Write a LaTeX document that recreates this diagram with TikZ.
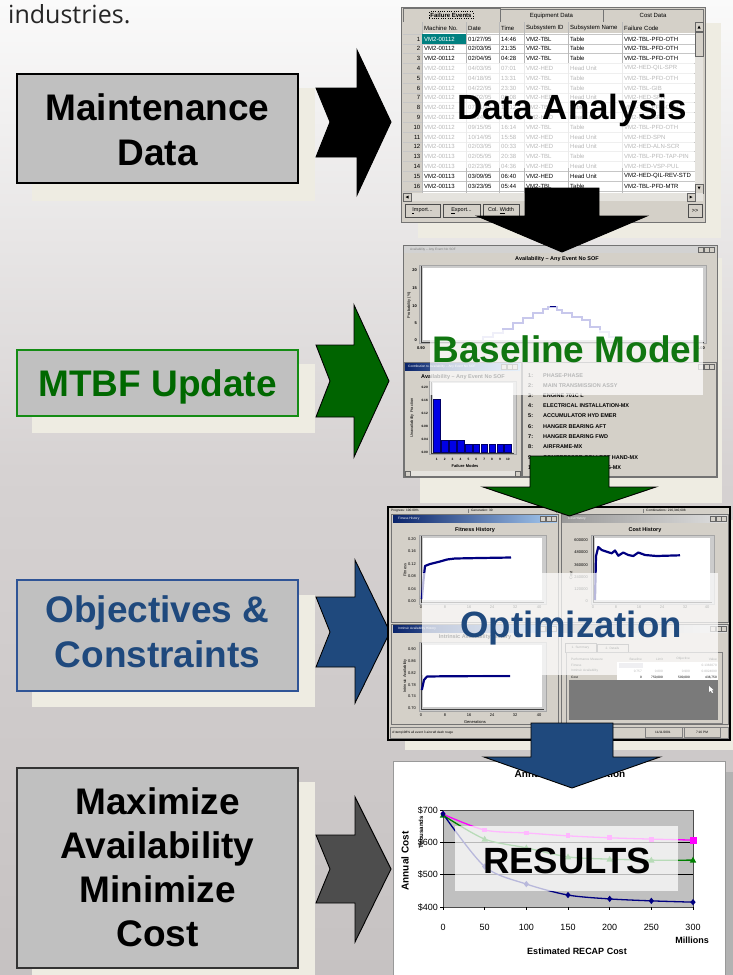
\documentclass[tikz,border=0pt]{standalone}
\usepackage{fontspec}
\setmainfont{Liberation Sans}
\newfontfamily\indfont{Open Sans}
\definecolor{beige}{RGB}{238,236,226}
\definecolor{boxgray}{RGB}{192,192,192}
\definecolor{wingray}{RGB}{212,208,200}
\definecolor{chgreen}{RGB}{0,100,0}
\definecolor{bdgreen}{RGB}{20,140,20}
\definecolor{txgreen}{RGB}{0,104,0}
\definecolor{bmgreen}{RGB}{16,118,16}
\definecolor{dblue}{RGB}{31,73,125}
\definecolor{bdblue}{RGB}{47,84,150}
\definecolor{chgray}{RGB}{77,77,77}
\definecolor{navyc}{RGB}{0,0,128}
\definecolor{magc}{RGB}{255,0,255}
\definecolor{grnc}{RGB}{0,128,0}
\definecolor{bgtop}{RGB}{250,250,250}
\definecolor{bgmid}{RGB}{214,210,210}
\definecolor{bgbot}{RGB}{198,194,194}
\definecolor{lav}{RGB}{200,200,236}
\definecolor{barblue}{RGB}{0,0,230}
\definecolor{titblue}{RGB}{10,36,106}
\definecolor{titlight}{RGB}{166,202,240}
\definecolor{tealc}{RGB}{0,128,128}
\definecolor{darkarea}{RGB}{122,122,122}
\tikzset{
  ftA/.style={font=\fontsize{3.2}{3.8}\selectfont, inner sep=0pt},
  ftB/.style={font=\fontsize{4}{4.8}\selectfont, inner sep=0pt},
  ftBb/.style={font=\bfseries\fontsize{4}{4.8}\selectfont, inner sep=0pt},
  ftC/.style={font=\fontsize{5.5}{6.6}\selectfont, inner sep=0pt},
  ftCb/.style={font=\bfseries\fontsize{5.5}{6.6}\selectfont, inner sep=0pt},
  ftD/.style={font=\fontsize{6}{7.2}\selectfont, inner sep=0pt},
  ftE/.style={font=\fontsize{9}{10.8}\selectfont, inner sep=0pt},
  ftEb/.style={font=\bfseries\fontsize{9}{10.8}\selectfont, inner sep=0pt},
  bigtxt/.style={font=\bfseries\fontsize{37}{45}\selectfont, align=center, inner sep=0pt},
  lbox/.style={draw, line width=1.3pt, fill=boxgray, inner sep=0pt},
  chev/.style={draw=black, line width=0.9pt, line join=miter},
  win/.style={fill=wingray, draw=black!55, line width=0.5pt},
  band/.style={fill=white, opacity=0.72},
  wbtn/.style={fill=wingray, draw=black!60, line width=0.3pt},
  btn/.style={draw=black!70, fill=wingray, line width=0.5pt, minimum height=13pt, inner sep=0pt, font=\fontsize{5.5}{6.6}\selectfont},
  pframe/.style={fill=gray!40, draw=gray!70, line width=0.4pt},
}
\begin{document}
\begin{tikzpicture}[x=1pt,y=-1pt]
\useasboundingbox (0,0) rectangle (733,975);
% background
\shade[top color=bgtop, bottom color=bgmid] (0,0) rectangle (733,470);
\shade[top color=bgmid, bottom color=bgbot] (0,469.5) rectangle (733,975);
\node[anchor=base west, inner sep=0pt, font=\indfont\fontsize{25}{30}\selectfont, text=black!85] (ind) at (8,23) {industries.};

% ---------------- left boxes ----------------
\fill[beige] (32,88) rectangle (315,201);
\node[lbox, draw=black, minimum width=281pt, minimum height=109pt] (box1) at (157.5,128.5) {};
\node[bigtxt] (txt1) at (157.5,129.3) {Maintenance\\Data};

\fill[beige] (32,364) rectangle (315,433);
\node[lbox, draw=bdgreen, minimum width=281pt, minimum height=66pt] (box2) at (157.5,383) {};
\node[bigtxt, anchor=base, text=txgreen] (txt2) at (157.5,396) {MTBF Update};

\fill[beige] (32,595) rectangle (315,707);
\node[lbox, draw=bdblue, minimum width=281pt, minimum height=111pt] (box3) at (157.5,635.5) {};
\node[bigtxt, text=dblue] (txt3) at (157.5,632) {Objectives \&\\Constraints};

\fill[beige] (32,782) rectangle (315,975);
\node[lbox, draw=black!80, minimum width=281pt, minimum height=200pt] (box4) at (157.5,868) {};
\node[bigtxt, font=\bfseries\fontsize{37}{44.3}\selectfont] (txt4) at (157.5,867.3) {Maximize\\Availability\\Minimize\\Cost};

% ---------------- chevrons ----------------
\filldraw[chev, fill=black] (316,88) -- (357,88) -- (357,50) -- (391,122) -- (357,195) -- (357,157) -- (316,157) -- (330,122) -- cycle;
\filldraw[chev, fill=chgreen] (316,345) -- (354,345) -- (354,305) -- (389,381) -- (354,457) -- (354,417) -- (316,417) -- (330,381) -- cycle;
\filldraw[chev, fill=dblue] (316,597) -- (355,597) -- (355,560) -- (390,632) -- (355,703) -- (355,667) -- (316,667) -- (330,632) -- cycle;
\filldraw[chev, fill=chgray] (316,835) -- (355,835) -- (355,797) -- (391,869) -- (355,942) -- (355,903) -- (316,903) -- (330,869) -- cycle;

% ================= screenshot 1 : data table =================
\fill[beige] (418,23) rectangle (721,238);
\draw[win] (401,7) rectangle (705,222);
\draw[win] (500,9.5) rectangle (603,22);
\draw[win] (603,9.5) rectangle (703,22);
\draw[win] (403,8) rectangle (500,22);
\node[ftD, font=\bfseries\fontsize{6}{7.2}\selectfont, draw=black, line width=0.3pt, dotted, inner sep=1.2pt] (tab1) at (451,15) {Failure Events};
\node[ftD] (tab2) at (551.5,15.5) {Equipment Data};
\node[ftD] (tab3) at (653,15.5) {Cost Data};
\fill[white] (403,22) rectangle (703,197);
\fill[wingray] (403,22) rectangle (695,33);
\fill[wingray] (403,33) rectangle (422,193);
\foreach \k in {0,...,16} \draw[gray!45, line width=0.4pt] (403,{34+\k*9.8}) -- (695,{34+\k*9.8});
\foreach \x in {422,466,499,524,568,622,695} \draw[gray!55, line width=0.4pt] (\x,22) -- (\x,193);
\fill[tealc] (422.4,34.4) rectangle (465.6,43.6);
\node[ftD, anchor=west] (h1) at (424,28) {Machine No.};
\node[ftD, anchor=west] (h2) at (468,28) {Date};
\node[ftD, anchor=west] (h3) at (501,28) {Time};
\node[ftD, anchor=west] (h4) at (526,28) {Subsystem ID};
\node[ftD, anchor=west] (h5) at (570,28) {Subsystem Name};
\node[ftD, anchor=west] (h6) at (624,28) {Failure Code};
\foreach \i/\a/\b/\c/\d/\e/\f in {
 1/VM2-00112/{01/27/95}/14:46/VM2-TBL/Table/VM2-TBL-PFD-OTH,
 2/VM2-00112/{02/03/95}/21:35/VM2-TBL/Table/VM2-TBL-PFD-OTH,
 3/VM2-00112/{02/04/95}/04:28/VM2-TBL/Table/VM2-TBL-PFD-OTH,
 4/VM2-00112/{04/03/95}/07:01/VM2-HED/Head Unit/VM2-HED-QIL-SPR,
 5/VM2-00112/{04/18/95}/13:31/VM2-TBL/Table/VM2-TBL-PFD-OTH,
 6/VM2-00112/{04/22/95}/23:30/VM2-TBL/Table/VM2-TBL-GIB,
 7/VM2-00112/{06/02/95}/00:08/VM2-HED/Head Unit/VM2-HED-SPN,
 8/VM2-00112/{07/11/95}/10:12/VM2-TBL/Table/VM2-TBL-PFD-OTH,
 9/VM2-00112/{08/24/95}/09:47/VM2-HED/Head Unit/VM2-HED-SPN,
 10/VM2-00112/{09/15/95}/16:14/VM2-TBL/Table/VM2-TBL-PFD-OTH,
 11/VM2-00112/{10/14/95}/15:58/VM2-HED/Head Unit/VM2-HED-SPN,
 12/VM2-00113/{02/03/95}/00:33/VM2-HED/Head Unit/VM2-HED-ALN-SCR,
 13/VM2-00113/{02/05/95}/20:38/VM2-TBL/Table/VM2-TBL-PFD-TAP-PIN,
 14/VM2-00113/{02/23/95}/04:36/VM2-HED/Head Unit/VM2-HED-VSP-PUL,
 15/VM2-00113/{03/09/95}/06:40/VM2-HED/Head Unit/VM2-HED-QIL-REV-STD,
 16/VM2-00113/{03/23/95}/05:44/VM2-TBL/Table/VM2-TBL-PFD-MTR}{
  \pgfmathsetmacro\yy{39+(\i-1)*9.8}
  \ifnum\i=1 \def\mcol{white}\else\def\mcol{black}\fi
  \node[ftD, anchor=east] (no\i) at (420.5,\yy) {\i};
  \node[ftD, anchor=west, text=\mcol] (ma\i) at (424,\yy) {\a};
  \node[ftD, anchor=west] (da\i) at (468,\yy) {\b};
  \node[ftD, anchor=west] (ti\i) at (501,\yy) {\c};
  \node[ftD, anchor=west] (si\i) at (526,\yy) {\d};
  \node[ftD, anchor=west] (sn\i) at (570,\yy) {\e};
  \node[ftD, anchor=west] (fc\i) at (624,\yy) {\f};
}
% scrollbars
\fill[wingray!60] (695,22) rectangle (703,193);
\draw[wbtn] (695,22) rectangle (703,31);
\draw[wbtn] (695,32) rectangle (703,56);
\draw[wbtn] (695,184) rectangle (703,193);
\fill[wingray!60] (403,193) rectangle (703,201);
\draw[wbtn] (403,193) rectangle (411,201);
\draw[wbtn] (687,193) rectangle (695,201);
\fill[black] (697.5,28.5) -- (700.5,28.5) -- (699,25.5) -- cycle;
\fill[black] (697.5,186.5) -- (700.5,186.5) -- (699,189.5) -- cycle;
\fill[black] (408.5,195.5) -- (408.5,198.5) -- (405.5,197) -- cycle;
\fill[black] (689.5,195.5) -- (689.5,198.5) -- (692.5,197) -- cycle;
% buttons
\node[btn, minimum width=35pt] (bimp) at (422.5,211) {\underline{I}mport...};
\node[btn, minimum width=37pt] (bexp) at (461.5,211) {\underline{E}xport...};
\node[btn, minimum width=36pt] (bcol) at (501,211) {Col. \underline{W}idth};
\node[btn, minimum width=14pt] (bmore) at (695,211) {{>}{>}};
% overlay and title
\fill[band] (423,63) rectangle (694,168);
\node[bigtxt, font=\bfseries\fontsize{35}{42}\selectfont, anchor=base] (lab1) at (572,119) {Data Analysis};

% ================= screenshot 2 : baseline model =================
\fill[beige] (420,258) rectangle (722,503);
\draw[win] (403,245) rectangle (717,477);
\fill[gray!35] (404,246) rectangle (716,253);
\node[ftA, anchor=west, text=gray] (w2t) at (410,249.5) {Availability -- Any Event No SOF};
\foreach \bx in {701,706.5,712} \draw[wbtn] (\bx-2.5,247) rectangle (\bx+2.5,252);
\node[ftCb] (ct2) at (557,259.5) {Availability -- Any Event No SOF};
\draw[pframe] (419,265) rectangle (706,343);
\fill[white] (423,268) rectangle (703,340);
\draw[black!75, line width=0.6pt] (421,266) -- (421,342) -- (704,342);
\foreach \v/\yy in {20/270,15/288,10/306,5/323,0/340} \node[ftBb, anchor=east] (py\v) at (417,\yy) {\v};
\node[ftB, rotate=90] (pyl) at (409,305) {Probability (\%)};
\node[ftBb] (pxa) at (421,348) {0.90};
\node[ftBb] (pxb) at (701,348) {1.00};
\draw[lav, line width=1.8pt] (483,340) -- (483,337) -- (493,337) -- (493,333) -- (503,333) -- (503,329) -- (513,329) -- (513,323) -- (523,323) -- (523,318) -- (533,318) -- (533,313) -- (543,313) -- (543,309) -- (548,309) -- (548,307) -- (557,307) -- (557,310) -- (562,310) -- (562,313) -- (572,313) -- (572,317) -- (582,317) -- (582,320) -- (590,320) -- (590,327) -- (600,327) -- (600,332) -- (609,332) -- (609,337) -- (620,337) -- (620,340);
\draw[navyc, line width=1pt] (550,306) -- (556,306);
% bottom-left panel
\draw[win] (404,362) rectangle (521,476);
\shade[left color=titblue, right color=titlight] (405,363) rectangle (520,370);
\node[ftA, anchor=west, text=white] (w3t) at (408,366.5) {Contribution to Availability -- Any Event No SOF};
\foreach \bx in {504,509.5,515} \draw[wbtn] (\bx-2.5,364) rectangle (\bx+2.5,369);
\node[ftCb] (ct3) at (463,377) {Availability -- Any Event No SOF};
\draw[pframe] (429,381) rectangle (516,454);
\fill[white] (433,383) rectangle (513,452);
\draw[black!75, line width=0.6pt] (431,382) -- (431,453) -- (514,453);
\foreach \k/\tp in {1/399,2/440,3/440,4/440,5/444,6/444,7/444,8/444,9/444,10/444}
  \filldraw[fill=barblue, draw=blue!40!black, line width=0.3pt] ({433.5+(\k-1)*7.9},\tp) rectangle ({433.5+(\k-1)*7.9+6.6},452);
\foreach \v/\yy in {0.20/387,0.16/400,0.12/413,0.08/426,0.04/439,0.00/452} \node[ftA, font=\bfseries\fontsize{3.2}{3.8}\selectfont, anchor=east] (uy\v) at (428,\yy) {\v};
\foreach \k in {1,...,10} \node[ftA, font=\bfseries\fontsize{3.2}{3.8}\selectfont] (ux\k) at ({436.8+(\k-1)*7.9},459) {\k};
\node[ftBb] (uxl) at (465,466) {Failure Modes};
\node[ftB, rotate=90] (uyl) at (412,418) {Unavailability Fraction};
\fill[wingray!60] (405,471) rectangle (520,476);
\draw[wbtn] (405,471) rectangle (410,476);
\draw[wbtn] (515,471) rectangle (520,476);
% bottom-right panel
\draw[win] (522,362) rectangle (716,476);
\foreach \bx in {701,706.5,712} \draw[wbtn] (\bx-2.5,364) rectangle (\bx+2.5,369);
\foreach \k/\yy/\txt in {1/376/PHASE-PHASE, 2/386/MAIN TRANSMISSION ASSY, 3/396/ENGINE 701C L/H-MX, 4/406/ELECTRICAL INSTALLATION-MX, 5/416/ACCUMULATOR HYD EMER/AP, 6/426.5/HANGER BEARING AFT, 7/437/HANGER BEARING FWD, 8/447/AIRFRAME-MX, 9/457.5/COMPRESSOR COLLECT HAND-MX, 10/468/LANDING GEAR RIGGING-MX}{
  \node[ftCb, anchor=west] (ln\k) at (528,\yy) {\k:};
  \node[ftCb, anchor=west] (lt\k) at (543,\yy) {\txt};
}
\fill[band] (430,330) rectangle (703,395);
\node[bigtxt, anchor=base, text=bmgreen] (lab2) at (567,362) {Baseline Model};

% ================= screenshot 3 : optimization =================
\fill[beige] (405,520) rectangle (735,750);
\draw[fill=wingray, draw=black, line width=2pt] (388,507) rectangle (730,740);
\node[ftA, anchor=west] (st1) at (391,510.5) {Progress: 100.00\%};
\node[ftA, anchor=west] (st2) at (471,510.5) {Generation: 30};
\node[ftA, anchor=west] (st3) at (646,510.5) {Combinations: 216,340,608};
\foreach \x in {468,556,643} \draw[gray, line width=0.3pt] (\x,508.5) -- (\x,512.5);
\draw[win] (391,514) rectangle (558,622);
\draw[win] (561,514) rectangle (728,622);
\draw[win] (391,624) rectangle (558,724);
\draw[win] (561,624) rectangle (728,724);
\shade[left color=titblue, right color=titlight] (393,515) rectangle (557,522);
\shade[left color=gray!80, right color=gray!25] (562,515) rectangle (727,522);
\shade[left color=titblue, right color=titlight] (393,625) rectangle (557,632);
\shade[left color=gray!80, right color=gray!25] (562,625) rectangle (727,632);
\node[ftA, anchor=west, text=white] (tb1) at (398,518.5) {Fitness History};
\node[ftA, anchor=west, text=white] (tb2) at (568,518.5) {Cost History};
\node[ftA, anchor=west, text=white] (tb3) at (398,628.5) {Intrinsic Availability History};
\foreach \bx/\by in {543/518.5,548.5/518.5,554/518.5,713/518.5,718.5/518.5,724/518.5,543/628.5,548.5/628.5,554/628.5,713/628.5,718.5/628.5,724/628.5}
  \draw[wbtn] (\bx-2.5,\by-2.5) rectangle (\bx+2.5,\by+2.5);
% fitness history
\node[ftCb] (ft1) at (475,530) {Fitness History};
\draw[pframe] (419,535) rectangle (546,604);
\fill[white] (423,538) rectangle (542,600);
\draw[black!75, line width=0.6pt] (421,536) -- (421,602) -- (544,602);
\foreach \v/\yy in {0.20/539,0.16/551.5,0.12/564,0.08/576.5,0.04/589,0.00/601.5} \node[ftB, anchor=east] (fy\v) at (416,\yy) {\v};
\foreach \g/\xx in {0/421,8/445,16/469,24/492,32/515,40/539} \node[ftB] (fx\g) at (\xx,607.5) {\g};
\node[ftB, rotate=90] (fyl) at (405,570) {Fitness};
\draw[navyc, line width=2.2pt, line join=round] (421.8,599) -- (423.5,580) -- (425,566) -- (430,564) -- (440,561.5) -- (447,559.5) -- (455,558.5) -- (480,558) -- (511,557.5);
% cost history
\node[ftCb] (ft2) at (645,530) {Cost History};
\draw[pframe] (591,535) rectangle (714,604);
\fill[white] (595,538) rectangle (710,600);
\draw[black!75, line width=0.6pt] (593,536) -- (593,602) -- (712,602);
\foreach \v/\yy in {600000/540,480000/552.5,360000/565,240000/577,120000/589,0/601} \node[ftB, anchor=east] (cy\v) at (588,\yy) {\v};
\foreach \g/\xx in {0/593,8/616,16/639,24/662,32/685,40/707} \node[ftB] (cx\g) at (\xx,607.5) {\g};
\node[ftB, rotate=90] (cyl) at (571,575) {Cost};
\draw[navyc, line width=2.2pt, line join=round] (595,600) -- (596,556) -- (598.3,547) -- (601.7,550) -- (606.7,551.7) -- (611.7,553.3) -- (615,550.5) -- (618.3,555.7) -- (623.3,552.5) -- (628.3,555) -- (633.3,556) -- (638.3,552.5) -- (645,555) -- (656.7,556) -- (680,555.3);
% intrinsic availability history
\node[ftCb] (ft3) at (475,637) {Intrinsic Availability History};
\draw[pframe] (419,642) rectangle (546,711);
\fill[white] (423,645) rectangle (542,707);
\draw[black!75, line width=0.6pt] (421,643) -- (421,709) -- (544,709);
\foreach \v/\yy in {0.90/649,0.86/661,0.82/673,0.78/685,0.74/696.5,0.70/708} \node[ftB, anchor=east] (iy\v) at (416,\yy) {\v};
\foreach \g/\xx in {0/421,8/445,16/469,24/492,32/515,40/539} \node[ftB] (ix\g) at (\xx,715) {\g};
\node[ftB] (ixl) at (475,722) {Generations};
\node[ftB, rotate=90] (iyl) at (405,676) {Intrinsic Availability};
\draw[navyc, line width=2.2pt, line join=round] (421.8,690) -- (424,680) -- (427,676.5) -- (450,676.2) -- (510,676);
% results table panel
\draw[wbtn] (565,643) rectangle (596,652);
\draw[wbtn] (597,644) rectangle (628,652);
\node[ftA] (tab4) at (580.5,647.5) {1. Summary};
\node[ftA] (tab5) at (612.5,648) {2. Details};
\draw[fill=wingray, draw=gray, line width=0.4pt] (566,652) rectangle (722,723);
\fill[white] (569,656) rectangle (718,680);
\fill[wingray] (569,656) rectangle (718,662);
\fill[wingray] (569,662) rectangle (617,680);
\fill[blue!10!gray!40] (619,662.5) rectangle (643,667.5);
\node[ftA, anchor=west] (r0a) at (571,659) {Performance Measure};
\node[ftA, anchor=east] (r0b) at (642,659) {Baseline};
\node[ftA, anchor=east] (r0c) at (663,659) {Limit};
\node[ftA, anchor=east] (r0d) at (690,659) {Objective};
\node[ftA, anchor=east] (r0e) at (717,659) {Value};
\node[ftA, anchor=west] (r1a) at (571,665) {Fitness};
\node[ftA, anchor=east] (r1e) at (717,665) {0.1363070};
\node[ftA, anchor=west] (r2a) at (571,671) {Intrinsic Availability};
\node[ftA, anchor=east] (r2b) at (642,671) {0.757};
\node[ftA, anchor=east] (r2c) at (663,671) {0.800};
\node[ftA, anchor=east] (r2d) at (690,671) {0.900};
\node[ftA, anchor=east] (r2e) at (717,671) {0.8024090};
\node[ftA, anchor=west] (r3a) at (571,677.5) {Cost};
\node[ftA, anchor=east] (r3b) at (642,677.5) {0};
\node[ftA, anchor=east] (r3c) at (663,677.5) {750,000};
\node[ftA, anchor=east] (r3d) at (690,677.5) {500,000};
\node[ftA, anchor=east] (r3e) at (717,677.5) {436,750};
\fill[darkarea] (569,680) rectangle (718,720);
\fill[white] (709,686) -- (709,692) -- (710.5,690.5) -- (712,693) -- (713,692.5) -- (711.8,690) -- (713.5,690) -- cycle;
% status bar
\draw[gray, line width=0.3pt] (390,727) rectangle (728,738);
\node[ftA, anchor=west] (sb1) at (392,732.5) {d:\textbackslash temp\textbackslash 98\% all event 3 aircraft dash rouge};
\draw[gray, line width=0.3pt] (645,727.5) rectangle (682,737.5);
\draw[gray, line width=0.3pt] (684,727.5) rectangle (720,737.5);
\node[ftA] (sb2) at (663,732.5) {11/11/2001};
\node[ftA] (sb3) at (702,732.5) {7:16 PM};
\fill[band] (422,573) rectangle (718,675);
\node[bigtxt, font=\bfseries\fontsize{36.6}{44}\selectfont, anchor=base, text=dblue] (lab3) at (571,637) {Optimization};

% ================= results chart =================
\fill[gray!60] (410,772) rectangle (733,975);
\draw[fill=white, draw=gray!80, line width=0.6pt] (393,761) rectangle (725,985);
\node[font=\bfseries\fontsize{10}{12}\selectfont, inner sep=0pt, anchor=base] (rt) at (570,777) {Annual Cost Reduction};
\draw[fill=boxgray, draw=gray!60!black, line width=0.6pt] (443,810) rectangle (693,907);
\draw[black, line width=0.5pt] (443,842.3) -- (693,842.3);
\draw[black, line width=0.5pt] (443,874.7) -- (693,874.7);
\foreach \v/\yy in {700/810,600/842.3,500/874.7,400/907} {
  \node[ftE, anchor=east] (ry\v) at (438,\yy) {\$\v};
  \draw[black, line width=0.5pt] (440,\yy) -- (443,\yy);
}
\foreach \v in {0,50,100,150,200,250,300} {
  \pgfmathsetmacro\xx{443+\v*0.833333}
  \node[ftE] (rx\v) at (\xx,927) {\v};
  \draw[black, line width=0.5pt] (\xx,907) -- (\xx,910);
}
\node[ftEb, anchor=base] (rmil) at (692,943.5) {Millions};
\node[ftEb, anchor=base] (rxl) at (577,954.5) {Estimated RECAP Cost};
\node[font=\bfseries\fontsize{10}{12}\selectfont, inner sep=0pt, rotate=90] (ryl) at (405,861) {Annual Cost};
\node[font=\bfseries\fontsize{6}{7}\selectfont, inner sep=0pt, rotate=90] (ryl2) at (421,832) {Thousands};
\begin{scope}[shift={(443,1036.33)}, x=0.83333pt, y=0.32333pt]
  \draw[magc, line width=1.3pt] plot[smooth, tension=0.5] coordinates {(0,687) (50,638) (100,629) (150,620) (200,614) (250,610) (300,607)};
  \draw[grnc, line width=1.3pt] plot[smooth, tension=0.5] coordinates {(0,684) (50,610) (100,583) (150,555) (200,548) (250,545) (300,545)};
  \draw[navyc, line width=1.3pt] plot[smooth, tension=0.5] coordinates {(0,688) (50,525) (100,471) (150,437) (200,425) (250,419) (300,415)};
\end{scope}
\foreach \v/\m/\g/\n in {0/687/684/688, 50/638/610/525, 100/629/583/471, 150/620/555/437, 200/614/548/425, 250/610/545/419, 300/607/545/415} {
  \pgfmathsetmacro\xx{443+\v*0.833333}
  \pgfmathsetmacro\ym{1036.33-\m*0.32333}
  \pgfmathsetmacro\yg{1036.33-\g*0.32333}
  \pgfmathsetmacro\yn{1036.33-\n*0.32333}
  \fill[magc] (\xx-2.4,\ym-2.4) rectangle (\xx+2.4,\ym+2.4);
  \fill[grnc] (\xx,\yg-3.4) -- (\xx+3.2,\yg+2.4) -- (\xx-3.2,\yg+2.4) -- cycle;
  \fill[navyc] (\xx,\yn-3.2) -- (\xx+2.6,\yn) -- (\xx,\yn+3.2) -- (\xx-2.6,\yn) -- cycle;
}
\fill[magc] (689.5,836.5) rectangle (696.5,843.5);
\fill[band] (455,826) rectangle (678,891);
\node[bigtxt, font=\bfseries\fontsize{36.5}{44}\selectfont, anchor=base] (lab4) at (567,873) {RESULTS};

% ================= down arrows =================
\filldraw[chev, fill=black] (525,188) -- (599,188) -- (599,216) -- (647,216) -- (562,252) -- (477,216) -- (525,216) -- cycle;
\filldraw[chev, fill=chgreen] (530,456) -- (609,456) -- (609,487) -- (656,487) -- (569.5,516) -- (483,487) -- (530,487) -- cycle;
\filldraw[chev, fill=dblue] (531,723) -- (613,723) -- (613,757) -- (660,757) -- (572,788) -- (484,757) -- (531,757) -- cycle;
\end{tikzpicture}
\end{document}
